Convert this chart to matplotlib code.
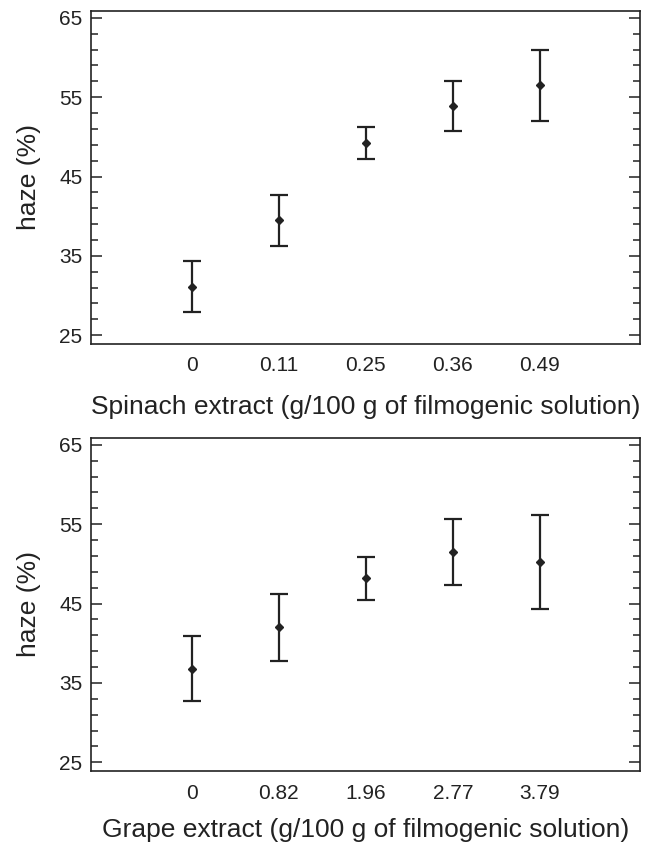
import numpy as np
import matplotlib
matplotlib.use('Agg')
import matplotlib.pyplot as plt
from matplotlib.ticker import NullLocator

plt.rcParams['font.family'] = ['Liberation Sans Narrow', 'Liberation Sans', 'DejaVu Sans']

# spinach panel
spinach_labels = ['0', '0.11', '0.25', '0.36', '0.49']
spinach_haze = [31.1, 39.5, 49.2, 53.9, 56.5]
spinach_err = [3.2, 3.2, 2.0, 3.15, 4.5]

# grape panel
grape_labels = ['0', '0.82', '1.96', '2.77', '3.79']
grape_haze = [36.8, 42.0, 48.2, 51.5, 50.2]
grape_err = [4.1, 4.2, 2.7, 4.2, 5.9]

y_major = [25, 35, 45, 55, 65]
ink = '#222222'


def draw_panel(ax, labels, haze, err, xlabel):
    x = np.arange(len(labels))
    ax.errorbar(x, haze, yerr=err, fmt='D', color=ink, ms=4, lw=1.6,
                capsize=6.5, capthick=1.6, elinewidth=1.6)
    ax.set_xlim(-1.16, len(labels) - 1 + 1.15)
    ax.set_ylim(23.9, 65.9)
    ax.set_xticks(x)
    ax.set_xticklabels(labels)
    ax.set_yticks(y_major)
    ax.set_yticks(np.arange(25, 66, 2), minor=True)
    ax.xaxis.set_minor_locator(NullLocator())
    ax.tick_params(axis='x', length=0, pad=9, labelsize=15, colors=ink)
    ax.tick_params(axis='y', which='both', direction='in', left=True, right=True,
                   labelsize=15, colors=ink, pad=6, width=1.1)
    ax.tick_params(axis='y', which='major', length=8)
    ax.tick_params(axis='y', which='minor', length=5)
    for s in ax.spines.values():
        s.set_linewidth(1.2)
        s.set_color(ink)
    ax.set_ylabel('haze (%)', fontsize=19, color=ink)
    ax.set_xlabel(xlabel, fontsize=19, color=ink)


fig = plt.figure(figsize=(6.49, 8.47), dpi=100)
ax1 = fig.add_axes([0.1398, 0.5939, 0.8462, 0.3935])
ax2 = fig.add_axes([0.1398, 0.0897, 0.8462, 0.3935])

draw_panel(ax1, spinach_labels, spinach_haze, spinach_err,
           'Spinach extract (g/100 g of filmogenic solution)')
draw_panel(ax2, grape_labels, grape_haze, grape_err,
           'Grape extract (g/100 g of filmogenic solution)')

for ax in (ax1, ax2):
    ax.yaxis.set_label_coords(-0.09, 0.5)
ax1.xaxis.set_label_coords(0.5, -0.153)
ax2.xaxis.set_label_coords(0.5, -0.141)

fig.savefig('out.png', dpi=100)
